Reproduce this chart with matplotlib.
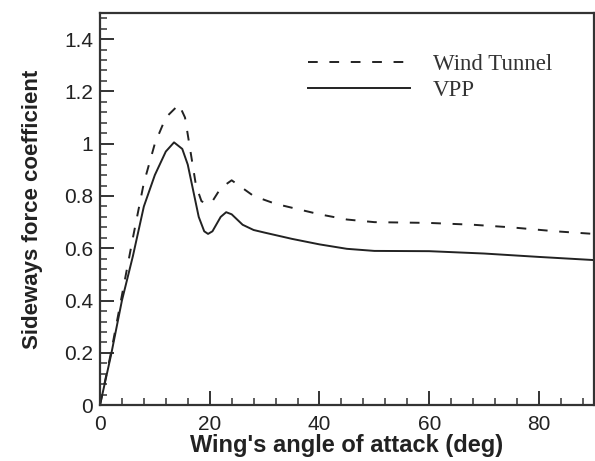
import numpy as np
import matplotlib
matplotlib.use('Agg')
import matplotlib.pyplot as plt
from matplotlib.ticker import MultipleLocator, FuncFormatter

plt.rcParams['font.family'] = ['Liberation Sans', 'DejaVu Sans']

# 資料：攻角 (deg) 與側向力係數
angle_vpp = [0, 2, 4, 6, 8, 10, 12, 13.5, 15, 16, 17, 18, 19, 19.7, 20.5, 22, 23, 24, 26, 28, 30,
             35, 40, 45, 50, 60, 70, 80, 90]
cs_vpp = [0, 0.19, 0.40, 0.57, 0.76, 0.88, 0.97, 1.005, 0.98, 0.92, 0.82, 0.72, 0.665, 0.655, 0.665,
          0.72, 0.738, 0.73, 0.69, 0.67, 0.66, 0.636, 0.615, 0.598, 0.59, 0.589, 0.58, 0.567, 0.555]

angle_wt = [0, 2, 4, 6, 8, 10, 12, 14.4, 15.5, 16.5, 17.5, 18.5, 19.5, 20.5, 22, 24, 26, 28, 32,
            36, 40, 45, 50, 60, 68, 75, 83, 90]
cs_wt = [0, 0.20, 0.42, 0.64, 0.85, 1.0, 1.10, 1.15, 1.10, 0.97, 0.84, 0.78, 0.77, 0.78, 0.83,
         0.86, 0.83, 0.80, 0.77, 0.75, 0.73, 0.71, 0.70, 0.697, 0.69, 0.68, 0.665, 0.655]

fig = plt.figure(figsize=(5.95, 4.61), dpi=100)
ax = fig.add_axes([0.168, 0.121, 0.830, 0.851])

ax.plot(angle_wt, cs_wt, color='#222222', lw=1.4, dashes=(5, 6), label='Wind Tunnel')
ax.plot(angle_vpp, cs_vpp, color='#222222', lw=1.4, label='VPP')

ax.set_xlim(0, 90)
ax.set_ylim(0, 1.5)
ax.xaxis.set_major_locator(MultipleLocator(20))
ax.xaxis.set_minor_locator(MultipleLocator(4))
ax.yaxis.set_major_locator(MultipleLocator(0.2))
ax.yaxis.set_minor_locator(MultipleLocator(0.04))
ax.yaxis.set_major_formatter(FuncFormatter(lambda v, p: ('%g' % round(v, 2))))

ax.tick_params(which='major', direction='in', length=10, width=1.4, color='#333333',
               labelsize=15, labelcolor='#222222', top=False, right=False)
ax.tick_params(axis='y', which='major', pad=5)
ax.tick_params(axis='x', which='major', pad=7)
ax.tick_params(which='minor', direction='in', length=5, width=1.1, color='#333333',
               top=False, right=False)
for s in ax.spines.values():
    s.set_linewidth(1.6)
    s.set_color('#333333')

ax.set_xlabel("Wing's angle of attack (deg)", fontsize=17, fontweight='bold', color='#222222', labelpad=0)
ax.set_ylabel('Sideways force coefficient', fontsize=16, fontweight='bold', color='#222222', labelpad=15)

leg = ax.legend(loc='upper left', bbox_to_anchor=(0.421, 0.895), frameon=False,
                prop={'family': 'Liberation Serif', 'size': 16.5}, handlelength=4.45,
                handletextpad=1.0, labelspacing=0.2, borderpad=0, borderaxespad=0)
for t in leg.get_texts():
    t.set_color('#333333')

plt.savefig('out.png', dpi=100)
